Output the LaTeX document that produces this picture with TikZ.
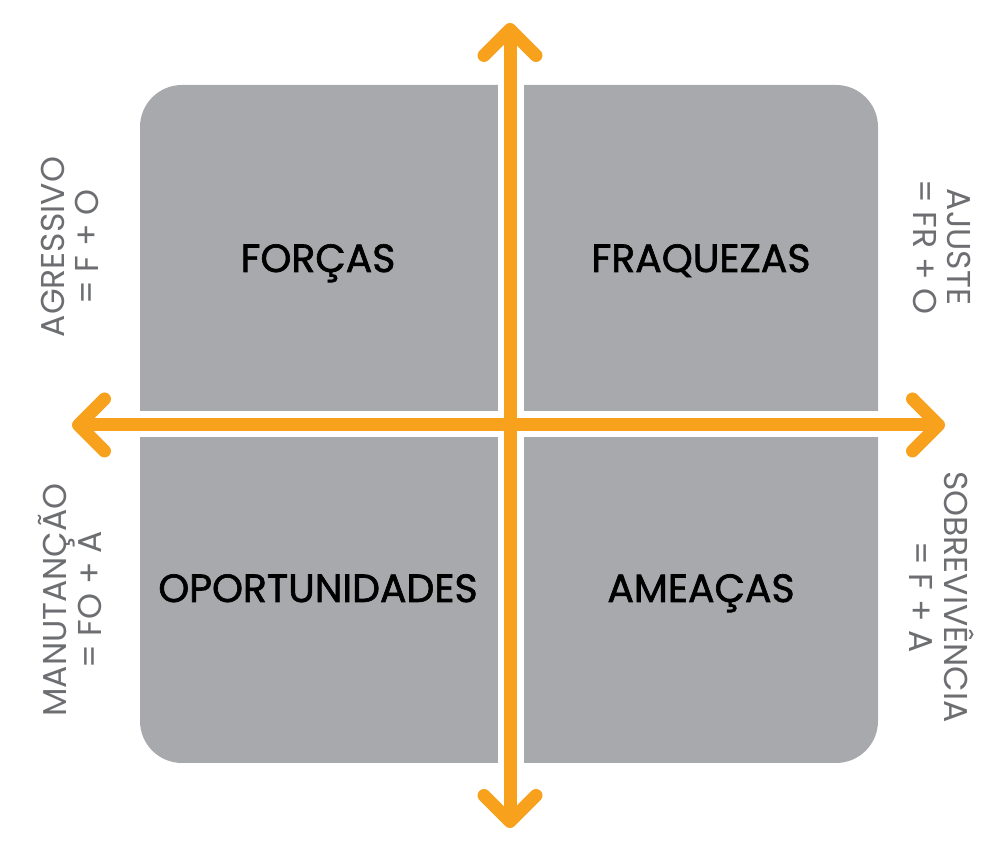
\documentclass[tikz,border=0pt]{standalone}
\usepackage{fontspec}
\setmainfont{Poppins}
\newfontfamily\quadfont{Poppins}[FakeBold=1.6]
\usetikzlibrary{arrows.meta}
\definecolor{quadgray}{HTML}{A7A9AC}
\definecolor{axisorange}{HTML}{F7A11C}
\definecolor{sidegray}{HTML}{6D6E71}
\tikzset{
	quadlabel/.style={anchor=base, text=black, font=\quadfont\fontsize{22.4}{26}\selectfont},
	sidelabel/.style={align=center, text=sidegray, font=\fontsize{18.8}{19.6}\selectfont},
	chevron/.tip={Straight Barb[length=0.52cm, width=1.04cm, round]},
	axisline/.style={draw=axisorange, line width=0.26cm, line cap=round, chevron-chevron}
}
\begin{document}
\begin{tikzpicture}
	\useasboundingbox (0,0) rectangle (20,16.92);
		% quadrants
		\fill[quadgray, rounded corners=0.84cm] (2.8,1.66) rectangle (17.56,15.22);
		\fill[white] (9.96,1.4) rectangle (10.48,15.5);
		\fill[white] (2.6,8.18) rectangle (17.8,8.70);
		\node[quadlabel] (forcas) at (6.36,11.48) {FORÇAS};
		\node[quadlabel] (fraquezas) at (14.02,11.48) {FRAQUEZAS};
		\node[quadlabel] (oportunidades) at (6.36,4.88) {OPORTUNIDADES};
		\node[quadlabel] (ameacas) at (14.02,4.88) {AMEAÇAS};
		% axes
		\coordinate (west) at (1.44,8.42);
		\coordinate (east) at (18.9,8.42);
		\coordinate (north) at (10.2,16.46);
		\coordinate (south) at (10.2,0.36);
		\draw[axisline] (west) -- (east);
		\draw[axisline] (south) -- (north);
		% strategies
		\node[sidelabel, rotate=90] (agressivo) at (1.40,11.98) {AGRESSIVO\\= F + O};
		\node[sidelabel, rotate=90] (manutencao) at (1.40,4.92) {MANUTANÇÃO\\= FO + A};
		\node[sidelabel, rotate=-90] (ajuste) at (18.84,11.98) {AJUSTE\\= FR + O};
		\node[sidelabel, rotate=-90] (sobrevivencia) at (18.84,4.98) {SOBREVIVÊNCIA\\= F + A};
	\end{tikzpicture}
\end{document}
